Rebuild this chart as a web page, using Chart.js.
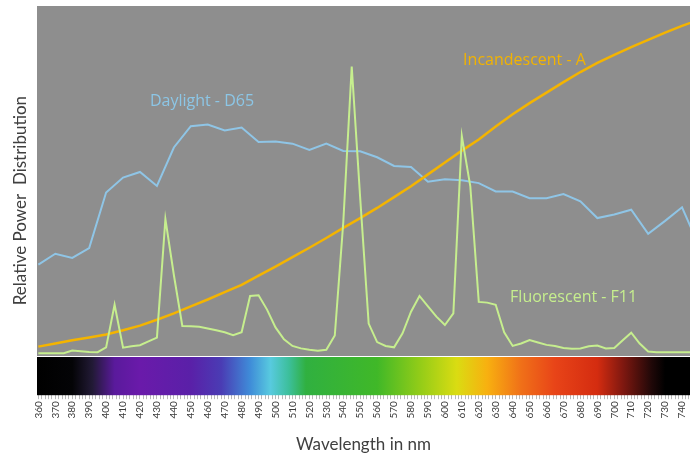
<!DOCTYPE html>
<html><head><meta charset="utf-8">
<script src="https://cdn.jsdelivr.net/npm/chart.js@4/dist/chart.umd.min.js"></script>
<style>html,body{margin:0;padding:0;background:#fff;}canvas{display:block;}</style>
</head><body>
<canvas id="c" width="690" height="459"></canvas>
<script>
// ---- data ----
const WAVELENGTH_TICKS = [360,370,380,390,400,410,420,430,440,450,460,470,480,490,500,510,520,530,540,550,560,570,580,590,600,610,620,630,640,650,660,670,680,690,700,710,720,730,740];

const D65_NM = [360,370,380,390,400,410,420,430,440,450,460,470,480,490,500,510,520,530,540,550,560,570,580,590,600,610,620,630,640,650,660,670,680,690,700,710,720,730,740,750];
const D65_VALUES = [26.0,29.1,27.9,30.7,46.6,50.9,52.5,48.5,59.5,65.6,66.1,64.4,65.2,61.1,61.2,60.6,58.8,60.6,58.5,58.4,56.7,54.2,53.9,49.7,50.4,50.1,49.3,46.9,46.9,45.0,45.0,46.2,44.1,39.3,40.3,41.7,34.8,38.5,42.4,31.3];

const A_NM = [360,370,380,390,400,410,420,430,440,450,460,470,480,490,500,510,520,530,540,550,560,570,580,590,600,610,620,630,640,650,660,670,680,690,700,710,720,730,740,750];
const A_VALUES = [2.5,3.4,4.3,5.1,6.0,7.2,8.5,10.2,12.0,14.0,16.0,18.1,20.2,22.8,25.4,28.1,30.8,33.6,36.5,39.3,42.2,45.3,48.4,51.8,55.2,58.6,61.8,65.5,69.0,72.2,75.2,78.2,81.1,83.7,86.0,88.2,90.3,92.4,94.3,96.1];

const F11_NM = [360,365,370,375,380,385,390,395,400,405,410,415,420,425,430,435,440,445,450,455,460,465,470,475,480,485,490,495,500,505,510,515,520,525,530,535,540,545,550,555,560,565,570,575,580,585,590,595,600,605,610,615,620,625,630,635,640,645,650,655,660,665,670,675,680,685,690,695,700,705,710,715,720,725,730,735,740,745,750];
const F11_VALUES = [0.6,0.6,0.6,0.6,1.4,1.2,1.0,0.9,2.3,14.5,2.2,2.6,2.9,4.0,5.1,39.0,23.0,8.4,8.3,8.2,7.7,7.2,6.6,5.8,6.6,17.0,17.2,13.1,8.0,4.6,2.7,2.0,1.6,1.3,1.6,5.7,38.0,82.7,45.0,9.1,3.8,2.7,2.3,6.3,12.5,17.0,14.0,11.1,8.7,12.0,62.8,48.4,15.3,15.1,14.5,6.6,2.7,3.4,4.4,3.7,3.0,2.7,2.1,1.9,2.0,2.6,2.8,2.0,2.1,4.3,6.5,3.4,1.1,0.9,0.9,0.9,0.9,0.9,0.7];

const SERIES_NAMES = ['Daylight - D65','Incandescent - A','Fluorescent - F11'];

// ---- styling / layout ----
const COLORS = {d65:'#8fc5e6', a:'#f4b400', f11:'#c6ee8e'};
const LABEL_POS = [
  {name:SERIES_NAMES[0], x:456.6, y:72.6, color:'#8cc6e6'},
  {name:SERIES_NAMES[1], x:647.0, y:84.3, color:'#f2b300'},
  {name:SERIES_NAMES[2], x:676.0, y:16.5, color:'#c6ee8e'}
];
const SPECTRUM_STOPS = [
  [359,'#000000'],[380,'#040406'],[392,'#221a36'],[405,'#5a1a9c'],[420,'#6a1aaa'],[450,'#5a20a8'],
  [468,'#4a3cb4'],[485,'#3f8cd8'],[497,'#58cadf'],[508,'#3cbf9a'],[518,'#30b040'],[560,'#40b828'],
  [585,'#92cc18'],[607,'#dadc12'],[625,'#f8b010'],[645,'#f07018'],[665,'#e84418'],[690,'#d42c10'],
  [705,'#801810'],[722,'#200808'],[730,'#000000'],[746,'#000000']
];
const MINOR_TICKS = [];
for (let v = 360; v <= 744; v += 2) MINOR_TICKS.push(v);

const toXY = (xs, ys) => xs.map((x, i) => ({x, y: ys[i]}));

const bgPlugin = {
  id: 'bg',
  beforeDatasetsDraw(chart) {
    const {ctx, chartArea: a, scales: {x, y}} = chart;
    const yBar = Math.round(y.getPixelForValue(-0.2));
    ctx.save();
    ctx.fillStyle = '#8e8e8e';
    ctx.fillRect(a.left, a.top, a.right - a.left, yBar - a.top);
    const g = ctx.createLinearGradient(a.left, 0, a.right, 0);
    const w = a.right - a.left;
    SPECTRUM_STOPS.forEach(([nm, c]) => {
      const p = (x.getPixelForValue(nm) - a.left) / w;
      g.addColorStop(Math.min(1, Math.max(0, p)), c);
    });
    ctx.fillStyle = g;
    ctx.fillRect(a.left, yBar + 1, w, a.bottom - yBar - 1);
    ctx.restore();
  },
  afterDatasetsDraw(chart) {
    const {ctx, scales: {x, y}} = chart;
    ctx.save();
    ctx.font = '16px "Open Sans"';
    ctx.textAlign = 'center';
    ctx.textBaseline = 'middle';
    LABEL_POS.forEach(l => {
      ctx.fillStyle = l.color;
      ctx.fillText(l.name, x.getPixelForValue(l.x), y.getPixelForValue(l.y));
    });
    ctx.restore();
  }
};

new Chart(document.getElementById('c'), {
  type: 'line',
  data: {
    datasets: [
      {label: SERIES_NAMES[2], data: toXY(F11_NM, F11_VALUES), borderColor: COLORS.f11, borderWidth: 2},
      {label: SERIES_NAMES[1], data: toXY(A_NM, A_VALUES), borderColor: COLORS.a, borderWidth: 2.5},
      {label: SERIES_NAMES[0], data: toXY(D65_NM, D65_VALUES), borderColor: COLORS.d65, borderWidth: 2}
    ]
  },
  options: {
    responsive: false,
    animation: false,
    devicePixelRatio: 1,
    elements: {point: {radius: 0}, line: {tension: 0, fill: false}},
    layout: {padding: {left: 6, right: 0, top: 6, bottom: 0}},
    plugins: {legend: {display: false}, tooltip: {enabled: false}},
    scales: {
      x: {
        type: 'linear', min: 359.2, max: 744.7,
        afterBuildTicks: s => { s.ticks = MINOR_TICKS.map(v => ({value: v})); },
        afterFit: s => { s.paddingLeft = 0; s.paddingRight = 0; },
        ticks: {
          autoSkip: false, minRotation: 90, maxRotation: 90, padding: 2,
          font: {family: 'Lato', size: 10}, color: '#3a3a3a',
          callback: v => WAVELENGTH_TICKS.includes(v) ? String(v) : ''
        },
        grid: {drawOnChartArea: false, tickLength: 4, color: '#b8b8b8'},
        border: {display: false},
        title: {display: true, text: 'Wavelength in nm', font: {family: 'Lato', size: 17}, color: '#404040', padding: {top: 14, bottom: 4}}
      },
      y: {
        min: -11.4, max: 100,
        ticks: {display: false},
        grid: {display: false, drawTicks: false},
        border: {display: false},
        title: {display: true, text: 'Relative Power  Distribution', font: {family: 'Lato', size: 17}, color: '#404040', padding: {top: 4, bottom: 6.6}}
      }
    }
  },
  plugins: [bgPlugin]
});
</script>
</body></html>
